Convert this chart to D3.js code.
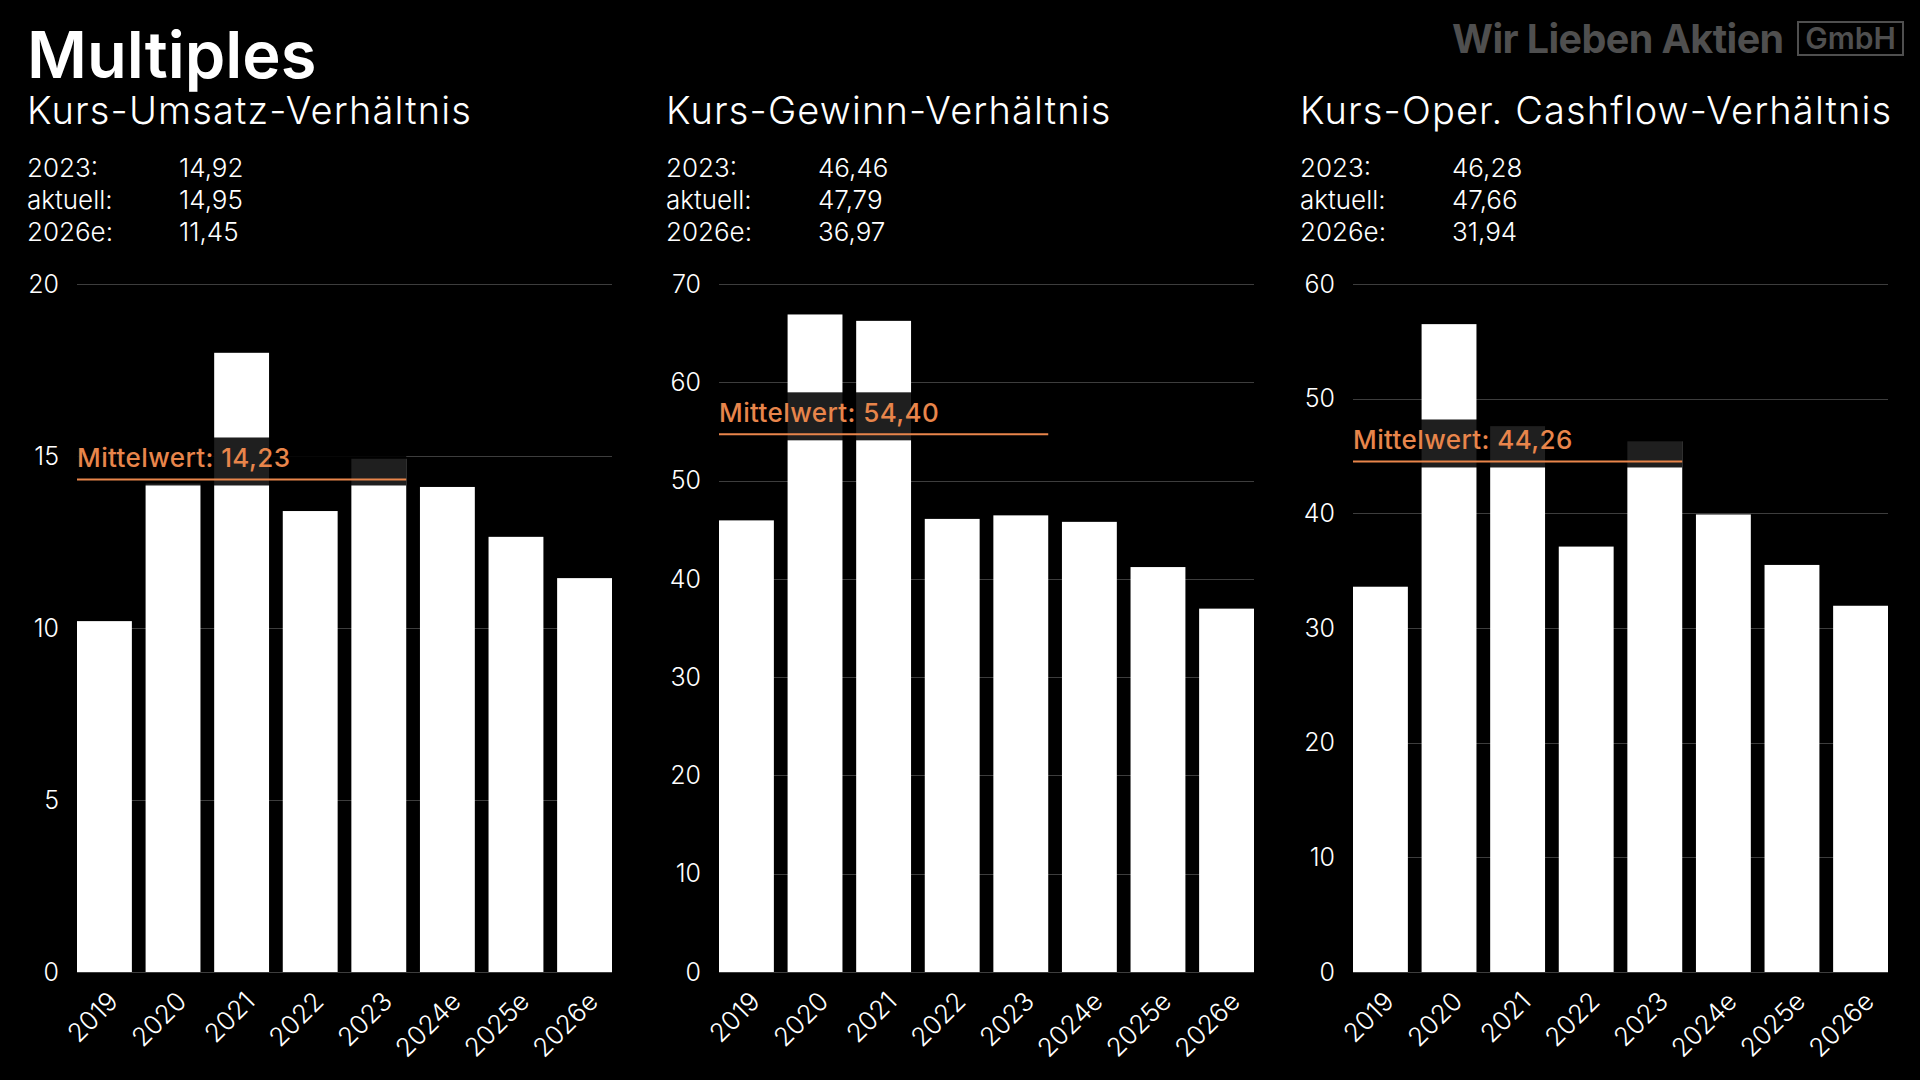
<!DOCTYPE html>
<html><head><meta charset="utf-8">
<script src="https://cdn.jsdelivr.net/npm/d3@7"></script>
<style>
html,body{margin:0;padding:0;background:#000;}
svg{display:block;}
text{font-family:Inter,"Open Sans",sans-serif;}
</style></head>
<body>
<svg id="c" width="1920" height="1080"></svg>
<script>
// ---------- data ----------
const years = ["2019","2020","2021","2022","2023","2024e","2025e","2026e"];
const psValues  = [10.2, 14.2, 18.0, 13.4, 14.92, 14.1, 12.65, 11.45];
const peValues  = [45.95, 66.9, 66.25, 46.1, 46.46, 45.8, 41.2, 36.97];
const pcfValues = [33.6, 56.5, 47.6, 37.1, 46.28, 39.9, 35.5, 31.94];
const panelTitles = ["Kurs-Umsatz-Verhältnis","Kurs-Gewinn-Verhältnis","Kurs-Oper. Cashflow-Verhältnis"];
const yMaxima = [20, 70, 60];
const yTickSteps = [5, 10, 10];
const meanValues = [14.23, 54.40, 44.26];
const meanLastYear = "2023";
const statLabels = ["2023:", "aktuell:", "2026e:"];
const psStats  = [14.92, 14.95, 11.45];
const peStats  = [46.46, 47.79, 36.97];
const pcfStats = [46.28, 47.66, 31.94];

const seriesValues = [psValues, peValues, pcfValues];
const seriesStats = [psStats, peStats, pcfStats];

// ---------- layout ----------
const W = 1920, H = 1080;
const plotLefts = [77, 719, 1353];
const plotWidth = 535;
const plotTop = 284, plotBottom = 972;
const headerX = [27, 666, 1300];
const orange = "#e8854b";
const gridColor = "#3d3d3d";

const svg = d3.select("#c");
svg.append("rect").attr("width", W).attr("height", H).attr("fill", "#000");

const de = v => d3.format(".2f")(v).replace(".", ",");

// title
svg.append("text").attr("x", 27).attr("y", 78)
  .attr("fill", "#fff").attr("font-size", 65).attr("font-weight", 600)
  .text("Multiples");

// logo
const logo = svg.append("g");
logo.append("text").attr("x", 1452).attr("y", 53)
  .attr("fill", "#4f4f4f").attr("font-size", 39.5).attr("font-weight", 700)
  .attr("letter-spacing", -0.6)
  .text("Wir Lieben Aktien");
logo.append("rect").attr("x", 1798).attr("y", 22).attr("width", 105).attr("height", 33)
  .attr("fill", "none").attr("stroke", "#4f4f4f").attr("stroke-width", 2);
logo.append("text").attr("x", 1850.5).attr("y", 49).attr("text-anchor", "middle")
  .attr("fill", "#4f4f4f").attr("font-size", 30).attr("font-weight", 600)
  .text("GmbH");

seriesValues.forEach((vals, i) => {
  const g = svg.append("g");
  const x0 = plotLefts[i];
  const x = d3.scaleBand().domain(years).range([x0, x0 + plotWidth]).paddingInner(0.2).paddingOuter(0);
  const y = d3.scaleLinear().domain([0, yMaxima[i]]).range([plotBottom, plotTop]);
  const ticks = d3.range(0, yMaxima[i] + 0.001, yTickSteps[i]);

  // header
  g.append("text").attr("x", headerX[i]).attr("y", 124)
    .attr("fill", "#fff").attr("font-size", 38).attr("font-weight", 300)
    .attr("letter-spacing", 1.15)
    .text(panelTitles[i]);
  statLabels.forEach((lab, k) => {
    g.append("text").attr("x", headerX[i]).attr("y", 177 + k * 32)
      .attr("fill", "#fff").attr("font-size", 26).attr("font-weight", 300).text(lab);
    g.append("text").attr("x", headerX[i] + 152).attr("y", 177 + k * 32)
      .attr("fill", "#fff").attr("font-size", 26).attr("font-weight", 300).text(de(seriesStats[i][k]));
  });

  // gridlines
  g.append("g").selectAll("line").data(ticks).join("line")
    .attr("x1", x0).attr("x2", x0 + plotWidth)
    .attr("y1", d => Math.round(y(d)) + 0.5).attr("y2", d => Math.round(y(d)) + 0.5)
    .attr("stroke", gridColor).attr("stroke-width", 1);

  // y axis labels
  g.append("g").selectAll("text").data(ticks).join("text")
    .attr("x", x0 - 18).attr("y", d => y(d)).attr("dy", "0.35em")
    .attr("text-anchor", "end").attr("fill", "#fff")
    .attr("font-size", 25).attr("font-weight", 300)
    .text(d => d);

  // bars
  g.append("g").selectAll("rect").data(vals).join("rect")
    .attr("x", (d, j) => x(years[j])).attr("width", x.bandwidth())
    .attr("y", d => y(d)).attr("height", d => plotBottom - y(d))
    .attr("fill", "#fff");

  // x labels
  g.append("g").selectAll("text").data(years).join("text")
    .attr("transform", d => `translate(${x(d) + x.bandwidth() / 2 + 15},${plotBottom + 31}) rotate(-45)`)
    .attr("text-anchor", "end").attr("fill", "#fff")
    .attr("font-size", 26).attr("font-weight", 300)
    .text(d => d);

  // mean
  const my = y(meanValues[i]) - 3;
  const xEnd = x(meanLastYear) + x.bandwidth();
  g.append("rect").attr("x", x0).attr("y", my - 42).attr("width", xEnd - x0).attr("height", 48)
    .attr("fill", "#000").attr("opacity", 0.88);
  g.append("line").attr("x1", x0).attr("x2", xEnd).attr("y1", my).attr("y2", my)
    .attr("stroke", orange).attr("stroke-width", 2);
  g.append("text").attr("x", x0).attr("y", my - 12)
    .attr("fill", orange).attr("font-size", 26).attr("font-weight", 500)
    .attr("letter-spacing", 0.4)
    .text("Mittelwert: " + de(meanValues[i]));
});
</script>
</body></html>
